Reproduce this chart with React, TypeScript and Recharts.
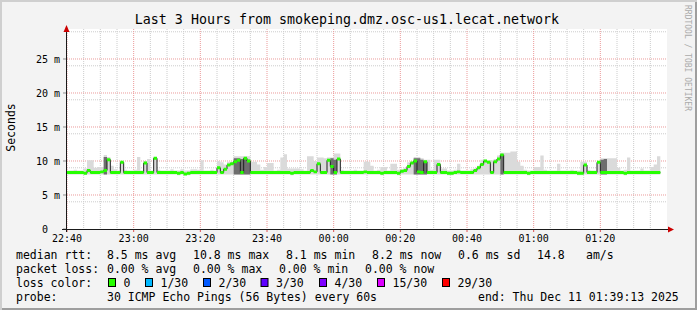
import React from "react";
import { ComposedChart, Area, XAxis, YAxis, CartesianGrid } from "recharts";

const W = 697;
const H = 310;
const FONT = "'DejaVu Sans Mono', monospace";

// x axis: minutes since 22:40
const timeTicks = [0, 20, 40, 60, 80, 100, 120, 140, 160];
const timeLabels = ["22:40", "23:00", "23:20", "23:40", "00:00", "00:20", "00:40", "01:00", "01:20"];
// y axis: milliseconds
const valueTicks = [0, 5, 10, 15, 20, 25];

// median rtt (ms), one sample per minute
const median = [
  8.3, 8.3, 8.3, 8.3, 8.3, 8.2, 8.6, 8.3, 8.3, 8.3,
  8.4, 8.6, 10.2, 8.3, 8.3, 8.3, 9.8, 8.3, 8.3, 8.3,
  8.3, 8.3, 8.3, 9.7, 8.3, 8.3, 10.4, 8.3, 8.3, 8.3,
  8.3, 8.3, 8.3, 8.2, 8.3, 8.1, 8.2, 8.3, 8.3, 8.3,
  8.3, 8.3, 8.3, 8.3, 8.3, 9.0, 8.3, 8.8, 9.4, 9.6,
  9.9, 10.1, 8.3, 10.4, 10.0, 8.3, 8.3, 8.3, 8.3, 8.3,
  8.3, 8.3, 8.3, 8.3, 8.3, 8.3, 8.3, 8.2, 8.3, 8.3,
  8.3, 8.3, 8.3, 8.6, 8.4, 9.6, 8.3, 8.3, 10.1, 9.2,
  8.3, 10.3, 8.3, 8.3, 8.3, 8.3, 8.3, 8.3, 8.3, 8.4,
  8.3, 8.3, 8.3, 8.3, 8.2, 8.3, 8.3, 8.3, 8.3, 8.2,
  8.5, 8.6, 9.2, 9.7, 10.0, 8.4, 8.3, 9.9, 8.3, 8.3,
  8.3, 9.5, 8.3, 8.3, 8.2, 8.2, 8.3, 8.4, 8.3, 8.3,
  8.3, 8.3, 8.6, 9.0, 9.5, 10.0, 9.8, 8.3, 9.9, 10.3,
  10.9, 8.3, 8.3, 8.3, 8.3, 8.3, 8.3, 8.3, 8.2, 8.3,
  8.3, 8.3, 8.3, 8.3, 8.3, 8.3, 8.3, 8.3, 8.3, 8.3,
  8.3, 8.3, 8.3, 8.2, 8.2, 9.4, 8.3, 8.3, 8.3, 9.8,
  8.3, 8.3, 8.3, 8.3, 8.3, 8.3, 8.3, 8.2, 8.3, 8.3,
  8.3, 8.3, 8.3, 8.3, 8.3, 8.3, 8.3, 8.3, 8.3,
];

// smoke: lowest and highest ping of each round
const smokeMin = [
  8.0, 8.0, 8.0, 8.0, 8.0, 8.0, 8.0, 8.0, 8.0, 8.0,
  8.0, 8.0, 8.0, 8.0, 8.0, 8.0, 8.0, 8.0, 8.0, 8.0,
  8.0, 8.0, 8.0, 8.0, 8.0, 8.0, 8.0, 8.0, 8.0, 8.0,
  8.0, 8.0, 8.0, 7.9, 8.0, 7.9, 7.9, 8.0, 8.0, 8.0,
  8.0, 8.0, 8.0, 8.0, 8.0, 8.0, 8.0, 8.0, 8.0, 8.0,
  8.0, 8.0, 8.0, 8.0, 8.0, 8.0, 8.0, 8.0, 8.0, 8.0,
  8.0, 8.0, 8.0, 8.0, 8.0, 8.0, 8.0, 7.9, 8.0, 8.0,
  8.0, 8.0, 8.0, 8.0, 8.0, 8.0, 8.0, 8.0, 8.0, 8.0,
  8.0, 8.0, 8.0, 8.0, 8.0, 8.0, 8.0, 8.0, 8.0, 8.0,
  8.0, 8.0, 8.0, 8.0, 7.9, 8.0, 8.0, 8.0, 8.0, 7.9,
  8.0, 8.0, 8.0, 8.0, 8.0, 8.0, 8.0, 8.0, 8.0, 8.0,
  8.0, 8.0, 8.0, 8.0, 7.9, 7.9, 8.0, 8.0, 8.0, 8.0,
  8.0, 8.0, 8.0, 8.0, 8.0, 8.0, 8.0, 8.0, 8.0, 8.0,
  8.0, 8.0, 8.0, 8.0, 8.0, 8.0, 8.0, 8.0, 7.9, 8.0,
  8.0, 8.0, 8.0, 8.0, 8.0, 8.0, 8.0, 8.0, 8.0, 8.0,
  8.0, 8.0, 8.0, 7.9, 7.9, 8.0, 8.0, 8.0, 8.0, 8.0,
  8.0, 8.0, 8.0, 8.0, 8.0, 8.0, 8.0, 7.9, 8.0, 8.0,
  8.0, 8.0, 8.0, 8.0, 8.0, 8.0, 8.0, 8.0, 8.0,
];

const smokeMax = [
  8.6, 8.6, 8.7, 8.6, 8.6, 8.9, 10.1, 10.1, 9.0, 9.1,
  9.1, 10.9, 10.6, 9.3, 8.8, 8.6, 10.0, 8.7, 8.6, 8.6,
  8.7, 10.6, 8.6, 10.0, 10.3, 8.6, 10.6, 8.7, 8.6, 8.6,
  8.6, 8.8, 8.6, 8.6, 8.8, 8.6, 8.6, 8.8, 8.8, 8.7,
  10.1, 8.6, 8.6, 8.7, 8.6, 10.0, 9.8, 9.5, 9.9, 9.9,
  10.7, 10.7, 10.7, 10.7, 10.7, 9.9, 9.9, 9.5, 8.7, 9.1,
  9.7, 9.7, 8.6, 8.7, 10.5, 11.0, 8.9, 8.9, 8.9, 8.9,
  8.8, 8.6, 10.7, 10.7, 10.0, 10.5, 10.5, 10.4, 10.5, 10.5,
  11.1, 11.1, 8.7, 8.6, 8.6, 8.6, 8.7, 8.6, 8.6, 9.9,
  9.9, 9.3, 8.6, 8.7, 9.1, 9.1, 8.6, 9.6, 9.6, 8.7,
  8.8, 9.0, 9.8, 9.9, 10.6, 10.6, 10.4, 10.2, 10.2, 8.7,
  10.2, 10.2, 8.9, 8.9, 8.6, 8.6, 8.7, 9.6, 8.6, 8.6,
  8.6, 8.8, 8.9, 9.3, 10.2, 10.2, 10.1, 10.1, 10.3, 10.8,
  11.2, 11.2, 11.2, 11.4, 11.4, 9.9, 9.3, 8.7, 8.6, 8.6,
  9.1, 9.1, 10.8, 8.7, 8.6, 8.6, 8.6, 9.6, 8.6, 8.6,
  8.6, 8.7, 8.6, 8.6, 9.9, 9.9, 8.7, 8.6, 8.6, 9.9,
  10.4, 10.4, 10.4, 10.4, 10.4, 9.0, 8.6, 8.7, 10.5, 8.6,
  8.6, 8.6, 8.9, 8.6, 8.6, 9.1, 9.5, 10.7, 10.7,
];

// dark core of the smoke (null = none)
const smokeCore: (number | null)[] = [
  null, null, null, null, null, null, null, null, null, null,
  null, 10.6, null, null, null, null, null, null, null, null,
  null, null, null, null, null, null, null, null, null, null,
  null, null, null, null, null, null, null, null, null, null,
  null, null, null, null, null, null, null, null, null, null,
  10.4, 10.4, 10.3, 10.4, 10.2, null, null, null, null, null,
  null, null, null, null, null, null, null, null, null, null,
  null, null, null, null, null, null, null, null, null, 10.4,
  10.2, null, null, null, null, null, null, null, null, null,
  null, null, null, null, null, null, null, null, null, null,
  null, null, null, null, 10.4, 10.4, 10.2, 9.9, null, null,
  null, null, null, null, null, null, null, null, null, null,
  null, null, null, null, null, null, null, null, null, null,
  10.9, null, null, null, null, null, null, null, null, null,
  null, null, null, null, null, null, null, null, null, null,
  null, null, null, null, null, null, null, null, null, null,
  10.2, 10.3, null, null, null, null, null, null, null, null,
  null, null, null, null, null, null, null, null, null,
];

const lossColors = ["#26ff00", "#00b8ff", "#0059ff", "#5e00ff", "#7e00ff", "#dd00ff", "#ff0000"];
const lossLabels = ["0", "1/30", "2/30", "3/30", "4/30", "15/30", "29/30"];
const lossBoxX = [108.5, 145.5, 203.5, 261, 319.5, 377.5, 442.5];

const rttStats = [
  ["median rtt:", 16], ["8.5 ms avg", 107], ["10.8 ms max", 193], ["8.1 ms min", 286],
  ["8.2 ms now", 372], ["0.6 ms sd", 458], ["14.8", 537], ["am/s", 586],
] as const;
const lossStats = [
  ["packet loss:", 16], ["0.00 % avg", 107], ["0.00 % max", 193], ["0.00 % min", 279], ["0.00 % now", 365],
] as const;
const probeInfo = [
  ["probe:", 16], ["30 ICMP Echo Pings (56 Bytes) every 60s", 107], ["end: Thu Dec 11 01:39:13 2025", 478],
] as const;

const BAND = 0.22; // half thickness of the median marker

const rows = median.map((m, i) => ({
  t: i,
  median: m,
  band: [m - BAND, m + BAND],
  smoke: [smokeMin[i], smokeMax[i]],
  core: [smokeMin[i], smokeCore[i] ?? smokeMin[i]],
}));

const minorTime: number[] = [];
for (let v = 5; v < 180; v += 5) if (v % 20 !== 0) minorTime.push(v);
const minorValue: number[] = [];
for (let v = 1; v < 30; v++) if (v % 5 !== 0) minorValue.push(v);

function TimeTick(props: any) {
  const { x, payload } = props;
  const label = timeLabels[timeTicks.indexOf(payload.value)];
  return (
    <text x={x} y={241.5} textAnchor="middle" fontFamily={FONT} fontSize={10} fill="#000">
      {label}
    </text>
  );
}

function ValueTick(props: any) {
  const { y, payload } = props;
  return (
    <g>
      <text x={48} y={y + 3.6} textAnchor="end" fontFamily={FONT} fontSize={10} fill="#000">
        {payload.value}
      </text>
      {payload.value !== 0 && (
        <text x={54} y={y + 3.6} fontFamily={FONT} fontSize={10} fill="#000">
          m
        </text>
      )}
    </g>
  );
}

const txt = { fontFamily: FONT, fontSize: 11.5, fill: "#000" };

export default function App() {
  return (
    <div
      style={{
        position: "absolute",
        left: 0,
        top: 0,
        width: W,
        height: H,
        background: "#f3f3f3",
        boxShadow: "inset 2px 2px 0 #cfcfcf, inset -2px -2px 0 #9e9e9e",
      }}
    >
      <ComposedChart width={W} height={H} data={rows} margin={{ top: 29, right: 30, left: 0, bottom: 0 }}>
        <CartesianGrid
          fill="#ffffff"
          stroke="#cccccc"
          strokeDasharray="1 1"
          horizontalValues={minorValue}
          verticalValues={minorTime}
        />
        <CartesianGrid
          stroke="#eb9a9a"
          strokeDasharray="1 1"
          horizontalValues={[5, 10, 15, 20, 25]}
          verticalValues={timeTicks}
        />
        <XAxis
          dataKey="t"
          type="number"
          domain={[0, 180]}
          ticks={timeTicks}
          interval={0}
          height={81}
          axisLine={false}
          tickLine={{ stroke: "#de5050" }}
          tickSize={3}
          tick={(p: any) => <TimeTick {...p} />}
          allowDataOverflow
        />
        <YAxis
          type="number"
          domain={[0, 29.41]}
          ticks={valueTicks}
          width={67}
          axisLine={false}
          tickLine={{ stroke: "#8f8f8f" }}
          tickSize={4}
          tick={(p: any) => <ValueTick {...p} />}
          allowDataOverflow
        />
        <Area dataKey="smoke" type="stepAfter" stroke="none" fill="#dadada" fillOpacity={1} dot={false} activeDot={false} isAnimationActive={false} />
        <Area dataKey="core" type="stepAfter" stroke="none" fill="#6e6e6e" fillOpacity={1} dot={false} activeDot={false} isAnimationActive={false} />
        <Area dataKey="median" type="stepAfter" stroke="#202020" strokeWidth={1} fill="none" dot={false} activeDot={false} isAnimationActive={false} />
        <Area dataKey="band" type="stepAfter" stroke="none" fill="#26ff00" fillOpacity={1} dot={false} activeDot={false} isAnimationActive={false} />
      </ComposedChart>

      <svg width={W} height={H} style={{ position: "absolute", left: 0, top: 0, pointerEvents: "none" }}>
        {/* axes */}
        <line x1={66.5} y1={232} x2={66.5} y2={29} stroke="#1a1a1a" />
        <polygon points="63.5,32 69.5,32 66.5,25" fill="#cc0000" />
        <line x1={62} y1={229.5} x2={670} y2={229.5} stroke="#1a1a1a" />
        <polygon points="668,226.5 668,232.5 674,229.5" fill="#cc0000" />

        <text x={347} y={23.5} textAnchor="middle" fontFamily={FONT} fontSize={13.3} fill="#000">
          Last 3 Hours from smokeping.dmz.osc-us1.lecat.network
        </text>
        <text transform="translate(14.5,127.5) rotate(-90)" textAnchor="middle" {...txt}>
          Seconds
        </text>
        <text transform="translate(685,5) rotate(90)" fontFamily={FONT} fontSize={8} fill="#aaaaaa">
          RRDTOOL / TOBI OETIKER
        </text>

        {rttStats.map(([s, x]) => (
          <text key={s} x={x} y={258.5} {...txt}>{s}</text>
        ))}
        {lossStats.map(([s, x]) => (
          <text key={s} x={x} y={272.5} {...txt}>{s}</text>
        ))}
        <text x={16} y={286.5} {...txt}>loss color:</text>
        {lossColors.map((c, i) => (
          <g key={c}>
            <rect x={lossBoxX[i]} y={278.5} width={7} height={8} fill={c} stroke="#000" strokeWidth={1} />
            <text x={lossBoxX[i] + 15} y={286.5} {...txt}>{lossLabels[i]}</text>
          </g>
        ))}
        {probeInfo.map(([s, x]) => (
          <text key={s} x={x} y={300.5} {...txt}>{s}</text>
        ))}
      </svg>
    </div>
  );
}
